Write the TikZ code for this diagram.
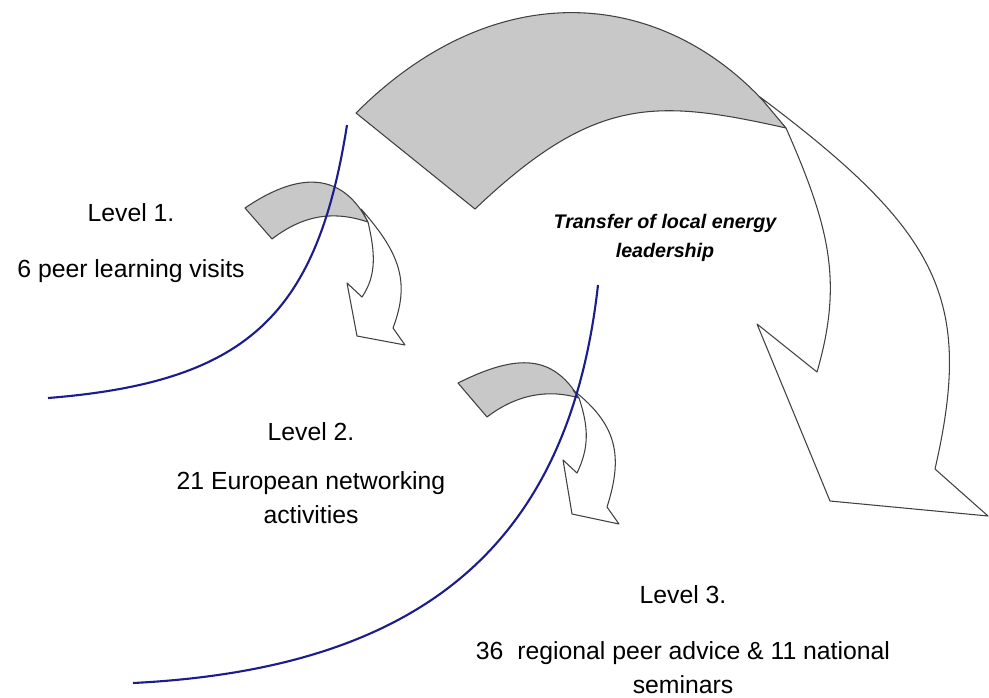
\documentclass[tikz,border=0pt]{standalone}
\usepackage{fontspec}
\setmainfont{Liberation Sans}
\usepackage{tikz}
\definecolor{backgray}{RGB}{200,200,200}
\definecolor{levelblue}{RGB}{28,28,140}
\tikzstyle{back}   = [draw=black!75, fill=backgray, line width=0.6pt, line join=round]
\tikzstyle{front}  = [draw=black!75, fill=white, line width=0.6pt, line join=round]
\tikzstyle{border} = [draw=levelblue, line width=1.2pt]
\tikzstyle{level}  = [font=\fontsize{14.1}{19.6}\selectfont, text centered]
\tikzstyle{desc}   = [font=\fontsize{14.1}{19.6}\selectfont, align=center]
\tikzstyle{note}   = [font=\fontsize{11.2}{16.5}\selectfont\bfseries\itshape, align=center]

\begin{document}
\begin{tikzpicture}[x=0.02cm, y=-0.02cm]
    \useasboundingbox (0,0) rectangle (989,697);
    % big arrow: transfer of leadership
    \coordinate (bigB) at (760,97);
    \coordinate (bigE) at (786,128);
    \coordinate (bigIn) at (817,372);
    \coordinate (bigOut) at (935,469);
    \filldraw[back] (356,113) .. controls (506,-37) and (684,-8) .. (bigE)
        .. controls (656,99) and (595,95) .. (475,209) -- cycle;
    \filldraw[front] (bigB) .. controls (940,232) and (974,299) .. (bigOut)
        -- (988,516) -- (830,501) -- (757,324) -- (bigIn)
        .. controls (843,282) and (830,228) .. (bigE) -- cycle;
    % small arrow, level 1 to 2
    \coordinate (oneB) at (361,209);
    \coordinate (oneE) at (368,222);
    \coordinate (oneIn) at (362,297);
    \coordinate (oneOut) at (393,328);
    \filldraw[back] (245,208) .. controls (305,167) and (345,177) .. (oneE)
        .. controls (338,212) and (307,212) .. (272,239) -- cycle;
    \filldraw[front] (oneB) .. controls (401,254) and (410,283) .. (oneOut)
        -- (405,345) -- (357,336) -- (347,283) -- (oneIn)
        .. controls (377,275) and (375,252) .. (oneE) -- cycle;
    % small arrow, level 2 to 3
    \coordinate (twoB) at (573,390);
    \coordinate (twoE) at (579,398);
    \coordinate (twoIn) at (577,473);
    \coordinate (twoOut) at (607,507);
    \filldraw[back] (458,383) .. controls (518,353) and (553,355) .. (twoE)
        .. controls (549,389) and (517,394) .. (487,417) -- cycle;
    \filldraw[front] (twoB) .. controls (618,425) and (623,457) .. (twoOut)
        -- (619,524) -- (572,514) -- (563,460) -- (twoIn)
        .. controls (589,448) and (589,428) .. (twoE) -- cycle;
    % level borders
    \draw[border] (347,125) .. controls (317,315) and (248,382) .. (48,398);
    \draw[border] (598,285) .. controls (570,535) and (433,668) .. (133,683);
    % texts
    \node[level](lvl1) at (131,213) {Level 1.};
    \node[desc, below of=lvl1, node distance=1.155cm](desc1) {6 peer learning visits};
    \node[level](lvl2) at (311,432) {Level 2.};
    \node[desc, below of=lvl2, node distance=1.31cm](desc2) {21 European networking\\activities};
    \node[level](lvl3) at (683,595) {Level 3.};
    \node[desc, below of=lvl3, node distance=1.45cm](desc3) {36\ \ regional peer advice \& 11 national\\seminars};
    \node[note](transfer) at (665,238) {Transfer of local energy\\leadership};
\end{tikzpicture}
\end{document}
